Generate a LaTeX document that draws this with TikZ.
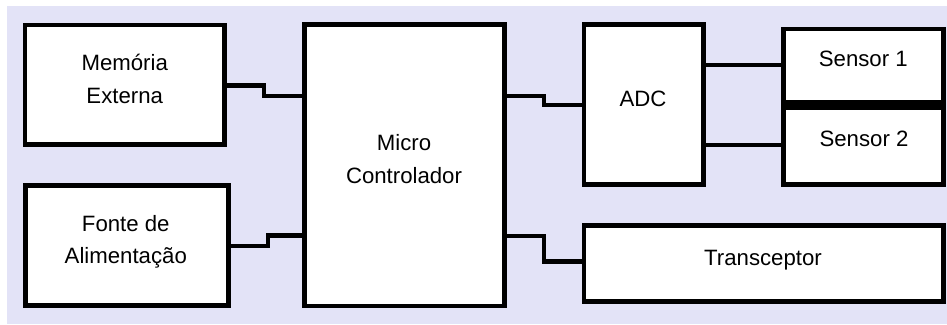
\documentclass[tikz,border=0pt]{standalone}
\usepackage{fontspec}
\setmainfont{Liberation Sans}
\definecolor{lav}{RGB}{227,227,247}
\begin{document}
\begin{tikzpicture}[x=1pt,y=-1pt,
  box/.style={draw=black,line width=4.5pt,fill=white,rectangle,inner sep=0pt,outer sep=0pt},
  wire/.style={draw=black,line width=4.5pt},
  lbl/.style={anchor=base,inner sep=0pt,font=\fontsize{22.2}{26}\selectfont}]
\useasboundingbox (0,0) rectangle (947,324);
\fill[white] (0,0) rectangle (947,324);
\fill[lav] (7,6) rectangle (947,324);
% boxes
\node[box,minimum width=199.5pt,minimum height=119.7pt] (mem) at (124.75,84.85) {};
\node[box,minimum width=203.4pt,minimum height=120.4pt] (fon) at (127,245.5) {};
\node[box,minimum width=200.1pt,minimum height=281.4pt] (mic) at (404.35,165.3) {};
\node[box,minimum width=119.7pt,minimum height=160.1pt] (adc) at (643.85,104.65) {};
\node[box,minimum width=160.1pt,minimum height=73.5pt] (s1) at (863.35,65.75) {};
\node[box,minimum width=160.1pt,minimum height=76.9pt] (s2) at (863.35,145.95) {};
\node[box,minimum width=359.4pt,minimum height=76.1pt] (trx) at (763.7,263.65) {};
% connectors
\coordinate (m1) at (264.2,85.5);
\coordinate (m2) at (264.2,95.8);
\draw[wire] (mem.east |- m1) -- (m1) -- (m2) -- (mic.west |- m2);
\coordinate (f1) at (267.8,245.8);
\coordinate (f2) at (267.8,235.5);
\draw[wire] (fon.east |- f1) -- (f1) -- (f2) -- (mic.west |- f2);
\coordinate (a1) at (544.2,95.8);
\coordinate (a2) at (544.2,105);
\draw[wire] (mic.east |- a1) -- (a1) -- (a2) -- (adc.west |- a2);
\coordinate (t1) at (544.2,235.8);
\coordinate (t2) at (544.2,261.7);
\draw[wire] (mic.east |- t1) -- (t1) -- (t2) -- (trx.west |- t2);
\coordinate (c1) at (743,65);
\coordinate (c2) at (743,145);
\draw[wire] (adc.east |- c1) -- (s1.west |- c1);
\draw[wire] (adc.east |- c2) -- (s2.west |- c2);
% labels
\node[lbl] (memt1) at (124.7,70) {Memória};
\node[lbl] (memt2) at (124.7,103) {Externa};
\node[lbl] (font1) at (125.8,231.7) {Fonte de};
\node[lbl] (font2) at (125.8,263.3) {Alimentação};
\node[lbl] (mict1) at (404,150) {Micro};
\node[lbl] (mict2) at (404,183) {Controlador};
\node[lbl] (adct) at (643,106.7) {ADC};
\node[lbl] (s1t) at (863.3,66.7) {Sensor 1};
\node[lbl] (s2t) at (864,146.7) {Sensor 2};
\node[lbl] (trxt) at (763,265) {Transceptor};
\end{tikzpicture}
\end{document}
